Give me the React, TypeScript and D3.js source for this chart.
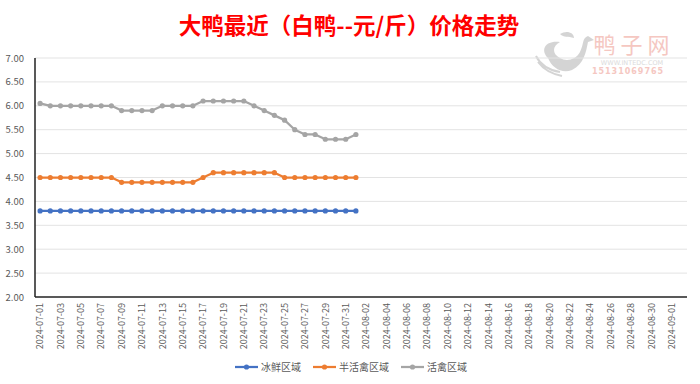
import React, { useEffect, useRef } from 'react';
import * as d3 from 'd3';

// dates 2024-07-01 .. 2024-09-02 (category axis)
const startDate = new Date(2024, 6, 1);
const dates: string[] = d3.timeDay
  .range(startDate, new Date(2024, 8, 3))
  .map(d => d3.timeFormat('%Y-%m-%d')(d));

const seriesNames = ['冰鲜区域', '半活禽区域', '活禽区域'];
const seriesColors = ['#4472C4', '#ED7D31', '#A5A5A5'];

// prices 07-01 .. 08-01
const frozen = [
  3.8, 3.8, 3.8, 3.8, 3.8, 3.8, 3.8, 3.8, 3.8, 3.8, 3.8, 3.8, 3.8, 3.8, 3.8, 3.8,
  3.8, 3.8, 3.8, 3.8, 3.8, 3.8, 3.8, 3.8, 3.8, 3.8, 3.8, 3.8, 3.8, 3.8, 3.8, 3.8,
];
const halfLive = [
  4.5, 4.5, 4.5, 4.5, 4.5, 4.5, 4.5, 4.5, 4.4, 4.4, 4.4, 4.4, 4.4, 4.4, 4.4, 4.4,
  4.5, 4.6, 4.6, 4.6, 4.6, 4.6, 4.6, 4.6, 4.5, 4.5, 4.5, 4.5, 4.5, 4.5, 4.5, 4.5,
];
const live = [
  6.05, 6.0, 6.0, 6.0, 6.0, 6.0, 6.0, 6.0, 5.9, 5.9, 5.9, 5.9, 6.0, 6.0, 6.0, 6.0,
  6.1, 6.1, 6.1, 6.1, 6.1, 6.0, 5.9, 5.8, 5.7, 5.5, 5.4, 5.4, 5.3, 5.3, 5.3, 5.4,
];
const yTicks = [2, 2.5, 3, 3.5, 4, 4.5, 5, 5.5, 6, 6.5, 7];

const W = 700;
const H = 384;
const margin = { top: 58, right: 13, bottom: 87, left: 35 };
const FONT = '"Noto Sans CJK SC", "Noto Sans", sans-serif';

const App = () => {
  const svgRef = useRef<SVGSVGElement>(null);

  useEffect(() => {
    const svg = d3.select(svgRef.current);
    svg.selectAll('*').remove();

    const x = d3.scaleBand()
      .domain(dates)
      .range([margin.left, W - margin.right]);
    const y = d3.scaleLinear()
      .domain([2, 7])
      .range([H - margin.bottom, margin.top]);
    const cx = (d: string) => (x(d) as number) + x.bandwidth() / 2;

    svg.append('rect').attr('width', W).attr('height', H).attr('fill', '#fff');

    // watermark
    const wm = svg.append('g').attr('opacity', 0.9);
    wm.append('path')
      .attr('d', 'M548,58 C540,50 545,40 560,42 C552,46 552,54 560,58 C566,62 576,60 580,52 C584,44 582,38 588,36 L594,40 L588,42 C586,52 584,64 572,70 C562,74 552,68 548,58 Z M560,34 C566,30 574,32 574,38 C568,36 564,38 560,34 Z')
      .attr('fill', '#d0d0d0');
    wm.append('path')
      .attr('d', 'M536,56 C540,64 548,70 560,72 M538,62 C544,70 552,74 562,76')
      .attr('fill', 'none').attr('stroke', '#d0d0d0').attr('stroke-width', 2);
    wm.append('text')
      .attr('x', 634).attr('y', 53).attr('text-anchor', 'middle')
      .attr('font-family', FONT).attr('font-size', 22).attr('letter-spacing', 5)
      .attr('fill', '#f5c2bb').text('鸭子网');
    wm.append('text')
      .attr('x', 632).attr('y', 65).attr('text-anchor', 'middle')
      .attr('font-family', 'DejaVu Sans, sans-serif').attr('font-size', 6.5)
      .attr('fill', '#d8d8d8').text('WWW.INTEDC.COM');
    wm.append('text')
      .attr('x', 628).attr('y', 74).attr('text-anchor', 'middle')
      .attr('font-family', 'DejaVu Sans, sans-serif').attr('font-size', 8)
      .attr('font-weight', 'bold').attr('letter-spacing', 1)
      .attr('fill', '#f5c2bb').text('15131069765');

    // title
    svg.append('text')
      .attr('x', 349).attr('y', 34).attr('text-anchor', 'middle')
      .attr('font-family', FONT).attr('font-size', 22.5).attr('font-weight', 'bold')
      .attr('fill', '#FF0000').text('大鸭最近（白鸭--元/斤）价格走势');

    // grid + y labels
    svg.append('g').selectAll('line').data(yTicks.slice(1)).enter().append('line')
      .attr('x1', margin.left).attr('x2', W - margin.right)
      .attr('y1', d => y(d)).attr('y2', d => y(d))
      .attr('stroke', '#e3e3e3').attr('stroke-width', 1);
    svg.append('g').selectAll('text').data(yTicks).enter().append('text')
      .attr('x', 24).attr('y', d => y(d) + 3.5).attr('text-anchor', 'end')
      .attr('font-family', FONT).attr('font-size', 9.5).attr('fill', '#595959')
      .text(d => d.toFixed(2));

    // axes lines
    svg.append('line')
      .attr('x1', margin.left).attr('x2', margin.left)
      .attr('y1', margin.top).attr('y2', H - margin.bottom)
      .attr('stroke', '#222').attr('stroke-width', 1.5);
    svg.append('line')
      .attr('x1', margin.left).attr('x2', W - margin.right)
      .attr('y1', H - margin.bottom).attr('y2', H - margin.bottom)
      .attr('stroke', '#222').attr('stroke-width', 1.5);

    // x labels, every other day
    svg.append('g').selectAll('text').data(dates.filter((_, i) => i % 2 === 0 && i < 63))
      .enter().append('text')
      .attr('transform', d => `translate(${cx(d) + 3.2}, ${H - margin.bottom + 6}) rotate(-90)`)
      .attr('text-anchor', 'end')
      .attr('font-family', FONT).attr('font-size', 9).attr('fill', '#595959')
      .text(d => d);

    // series
    const allSeries = [frozen, halfLive, live];
    const line = d3.line<number>()
      .x((_, i) => cx(dates[i]))
      .y(d => y(d));
    allSeries.forEach((vals, si) => {
      const g = svg.append('g');
      g.append('path')
        .datum(vals)
        .attr('d', line)
        .attr('fill', 'none')
        .attr('stroke', seriesColors[si])
        .attr('stroke-width', 2.25)
        .attr('stroke-linejoin', 'round');
      g.selectAll('circle').data(vals).enter().append('circle')
        .attr('cx', (_, i) => cx(dates[i]))
        .attr('cy', d => y(d))
        .attr('r', 2.6)
        .attr('fill', seriesColors[si]);
    });

    // legend
    const legendX = [235, 313, 401];
    seriesNames.forEach((name, i) => {
      const g = svg.append('g').attr('transform', `translate(${legendX[i]}, 367)`);
      g.append('line').attr('x1', 0).attr('x2', 23).attr('y1', 0).attr('y2', 0)
        .attr('stroke', seriesColors[i]).attr('stroke-width', 2.25);
      g.append('circle').attr('cx', 11.5).attr('cy', 0).attr('r', 2.6).attr('fill', seriesColors[i]);
      g.append('text').attr('x', 26).attr('y', 3.5)
        .attr('font-family', FONT).attr('font-size', 10).attr('fill', '#595959')
        .text(name);
    });
  }, []);

  return (
    <svg
      ref={svgRef}
      width={W}
      height={H}
      style={{ position: 'absolute', left: 0, top: 0, display: 'block' }}
    />
  );
};

export default App;
